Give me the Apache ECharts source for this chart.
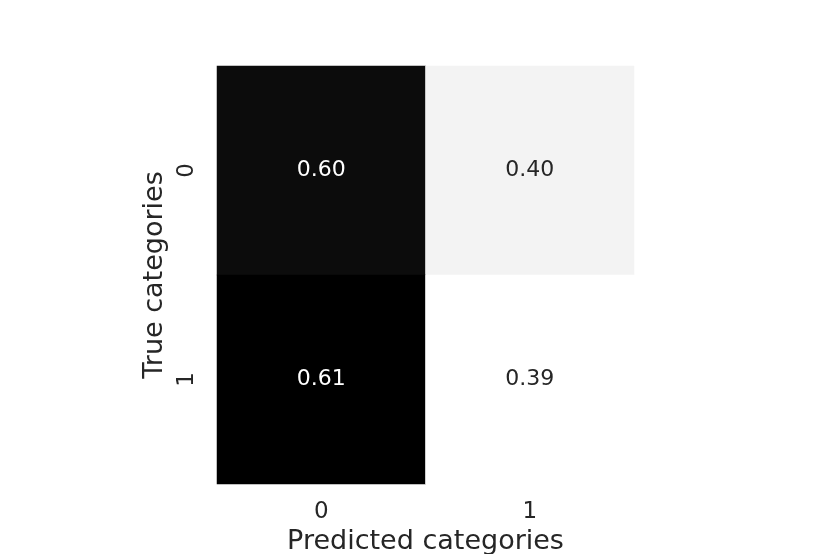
<!DOCTYPE html>
<html>
<head>
<meta charset="utf-8">
<script src="https://cdn.jsdelivr.net/npm/echarts@6/dist/echarts.min.js"></script>
<style>html,body{margin:0;padding:0;background:#fff;}#c{width:830px;height:554px;}</style>
</head>
<body>
<div id="c"></div>
<script>
const predictedCategories = ['0', '1'];
const trueCategories = ['0', '1'];
// rows: true category, columns: predicted category
const row0Values = [0.60, 0.40];
const row1Values = [0.61, 0.39];
const valueRows = [row0Values, row1Values];

const data = [];
valueRows.forEach(function (row, yi) {
  row.forEach(function (v, xi) {
    data.push({
      value: [xi, yi, v],
      label: { color: v > 0.5 ? '#ffffff' : '#262626' }
    });
  });
});

const chart = echarts.init(document.getElementById('c'), null, { renderer: 'canvas' });
chart.setOption({
  backgroundColor: '#ffffff',
  animation: false,
  grid: { left: 217, top: 66, width: 417, height: 418, containLabel: false, outerBoundsMode: 'none' },
  xAxis: {
    type: 'category',
    data: predictedCategories,
    name: 'Predicted categories',
    nameLocation: 'middle',
    nameGap: 44,
    nameTextStyle: { fontFamily: 'DejaVu Sans', fontSize: 27, color: '#262626' },
    axisLine: { show: false },
    axisTick: { show: false },
    splitLine: { show: false },
    axisLabel: { fontFamily: 'DejaVu Sans', fontSize: 23, color: '#262626', margin: 17 }
  },
  yAxis: {
    type: 'category',
    data: trueCategories,
    inverse: true,
    name: 'True categories',
    nameLocation: 'middle',
    nameGap: 46,
    nameRotate: 90,
    nameTextStyle: { fontFamily: 'DejaVu Sans', fontSize: 27, color: '#262626' },
    axisLine: { show: false },
    axisTick: { show: false },
    splitLine: { show: false },
    axisLabel: { fontFamily: 'DejaVu Sans', fontSize: 23, color: '#262626', rotate: 90, margin: 18 }
  },
  visualMap: {
    show: false,
    type: 'continuous',
    min: 0.39,
    max: 0.61,
    dimension: 2,
    inRange: { color: ['#ffffff', '#000000'] }
  },
  series: [{
    type: 'heatmap',
    data: data,
    label: {
      show: true,
      fontFamily: 'DejaVu Sans',
      fontSize: 22,
      formatter: function (p) { return p.value[2].toFixed(2); }
    },
    itemStyle: { borderWidth: 0 },
    emphasis: { disabled: true }
  }]
});
</script>
</body>
</html>
